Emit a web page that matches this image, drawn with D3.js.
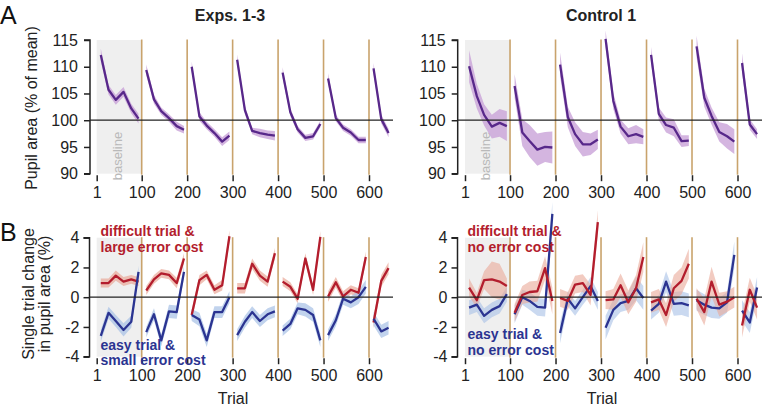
<!DOCTYPE html>
<html>
<head>
<meta charset="utf-8">
<script src="https://cdn.jsdelivr.net/npm/d3@7"></script>
<style>
  html, body { margin: 0; padding: 0; background: #fff; }
  svg { display: block; font-family: "Liberation Sans", Arial, Helvetica, sans-serif; }
</style>
</head>
<body>
<svg id="chart" width="762" height="409"></svg>
<script>
// ---------------- DATA ----------------
const blockStarts = [0, 100, 200, 300, 400, 500, 600];
const binOffsets = [10, 27, 43, 60, 77, 93];
const xTickLabels = [1, 100, 200, 300, 400, 500, 600];
const pupilTicks = [90, 95, 100, 105, 110, 115];
const changeTicks = [-4, -2, 0, 2, 4];
const panelTitles = ["Exps. 1-3", "Control 1"];

// Panel A, Exps. 1-3 : pupil area (% of mean)
const pupilExp = [
  [112.2, 105.7, 103.8, 105.3, 102.2, 100.3],
  [109.4, 103.9, 101.7, 100.4, 98.9, 98.2],
  [110.0, 100.7, 99.0, 97.6, 96.0, 97.1],
  [111.3, 101.9, 98.0, 97.6, 97.3, 97.1],
  [108.9, 101.5, 98.3, 96.7, 97.0, 99.3],
  [107.8, 100.4, 98.6, 97.7, 96.3, 96.3],
  [109.7, 100.2, 97.6]
];
const pupilExpSE = [
  [1.2, 0.9, 0.9, 0.9, 0.9, 0.9],
  [1.0, 0.8, 0.7, 0.7, 0.8, 0.7],
  [1.0, 0.8, 0.7, 0.7, 0.8, 0.8],
  [1.0, 0.8, 0.6, 0.8, 0.8, 0.9],
  [1.0, 0.7, 0.6, 0.6, 0.6, 0.6],
  [1.0, 0.6, 0.6, 0.6, 0.6, 0.6],
  [1.0, 0.8, 0.8]
];
// Panel A, Control 1
const pupilCtrl = [
  [110.1, 104.5, 101.0, 98.8, 99.5, 98.9],
  [106.4, 97.7, 96.1, 94.5, 95.0, 94.9],
  [110.4, 100.6, 97.4, 95.5, 95.5, 96.4],
  [115.2, 103.6, 98.8, 97.0, 97.4, 96.9],
  [112.2, 101.2, 99.1, 98.6, 96.1, 96.2],
  [113.8, 104.2, 100.8, 97.8, 97.0, 96.0],
  [110.7, 99.2, 97.4]
];
const pupilCtrlSE = [
  [3.0, 2.3, 2.0, 2.2, 2.6, 2.8],
  [2.2, 2.5, 3.0, 3.0, 2.8, 3.0],
  [2.2, 1.9, 2.2, 2.3, 2.0, 1.8],
  [1.6, 1.5, 1.3, 1.5, 1.7, 1.4],
  [1.5, 1.2, 1.4, 1.6, 1.1, 1.0],
  [2.0, 1.7, 1.6, 1.8, 2.3, 2.3],
  [1.8, 1.0, 0.9]
];
// Panel B, Exps. 1-3 : single trial change (%)
const difficultLarge = [
  [0.95, 0.95, 1.45, 1.05, 1.2, 1.05],
  [0.45, 1.2, 1.6, 1.5, 0.95, 2.6],
  [-1.2, 1.15, 1.5, 0.5, 0.8, 4.1],
  [0.6, 0.6, 2.25, 1.45, 1.05, 2.95],
  [1.05, 0.7, -0.1, 2.6, 0.5, 4.05],
  [0.05, 1.0, 0.05, 0.5, 0.3, 2.7],
  [-1.7, 1.1, 1.95]
];
const difficultLargeSE = [
  [0.3, 0.3, 0.35, 0.3, 0.3, 0.3],
  [0.3, 0.3, 0.3, 0.3, 0.35, 0.35],
  [0.35, 0.35, 0.3, 0.3, 0.35, 0.4],
  [0.35, 0.35, 0.35, 0.35, 0.35, 0.35],
  [0.3, 0.3, 0.3, 0.35, 0.35, 0.4],
  [0.35, 0.35, 0.35, 0.3, 0.3, 0.35],
  [0.4, 0.4, 0.4]
];
const easySmall = [
  [-2.6, -1.05, -1.6, -2.2, -1.65, 1.7],
  [-2.35, -1.15, -2.9, -0.95, -1.0, 1.7],
  [-1.2, -1.5, -2.9, -1.0, -1.0, 0.0],
  [-2.55, -1.65, -1.0, -1.6, -1.15, -0.95],
  [-2.25, -1.8, -0.75, -0.85, -1.2, -2.9],
  [-2.55, -1.55, -0.1, -0.35, 0.0, 0.7],
  [-1.45, -2.3, -2.05]
];
const easySmallSE = [
  [0.4, 0.4, 0.4, 0.45, 0.4, 0.4],
  [0.35, 0.4, 0.4, 0.45, 0.45, 0.4],
  [0.4, 0.45, 0.45, 0.4, 0.4, 0.4],
  [0.4, 0.4, 0.4, 0.4, 0.4, 0.4],
  [0.35, 0.35, 0.4, 0.45, 0.45, 0.45],
  [0.4, 0.4, 0.4, 0.4, 0.45, 0.45],
  [0.45, 0.45, 0.45]
];
// Panel B, Control 1
const difficultNone = [
  [0.65, -0.2, 1.15, 1.2, 1.05, 0.75],
  [-1.05, 0.15, 0.35, 0.4, 1.95, -0.25],
  [-0.05, -0.25, 0.85, 0.95, 0.15, 5.05],
  [-0.2, -0.15, 0.8, -0.35, 0.6, 2.7],
  [-0.35, -0.15, -1.2, 0.6, 1.1, 2.25],
  [-0.1, -1.0, 1.05, -0.5, -0.3, 0.0],
  [-1.9, 0.5, -0.7]
];
const difficultNoneSE = [
  [0.6, 0.5, 0.6, 1.2, 1.2, 0.5],
  [0.6, 0.6, 0.7, 0.7, 0.8, 0.9],
  [0.6, 0.6, 0.6, 0.6, 0.7, 0.8],
  [0.6, 0.7, 0.8, 0.8, 0.9, 1.0],
  [0.7, 0.7, 0.8, 0.9, 0.9, 1.0],
  [0.7, 0.9, 1.0, 0.8, 0.7, 0.7],
  [0.8, 0.8, 0.8]
];
const easyNone = [
  [-0.7, -0.5, -1.25, -0.85, -0.6, 0.2],
  [-1.15, 0.0, -0.25, -0.65, -0.7, 5.6],
  [-2.4, -0.1, -0.75, 0.0, 0.75, -0.25],
  [-2.05, -0.85, -0.4, -0.25, 0.6, -0.05],
  [-0.9, -0.45, 1.05, -0.45, -0.4, -0.55],
  [-0.2, -0.5, -0.7, -0.75, -0.35, 2.85],
  [-0.9, -1.7, 0.65]
];
const easyNoneSE = [
  [0.5, 0.5, 0.5, 0.5, 0.5, 0.5],
  [0.6, 0.5, 0.6, 0.6, 0.6, 0.8],
  [0.7, 0.5, 0.5, 0.5, 0.6, 0.6],
  [0.8, 0.7, 0.6, 0.6, 0.8, 0.8],
  [0.6, 0.6, 0.7, 0.8, 0.8, 0.8],
  [0.7, 0.7, 0.7, 0.7, 0.7, 0.9],
  [0.7, 0.7, 0.7]
];

// ---------------- STYLE ----------------
const C = {
  purple: "#58288a", purpleBand: "#c9a2d8",
  red: "#b31d2d", redBand: "#e9a898",
  blue: "#2b3491", blueBand: "#a7c0e6",
  gold: "#c9a36c", grey: "#efefef", baseText: "#b9b9b9"
};

const svg = d3.select("#chart");

function toPoints(values, se) {
  const pts = [];
  values.forEach((blk, b) => blk.forEach((v, i) => {
    pts.push({ block: b, t: blockStarts[b] + binOffsets[i], v: v, se: se[b][i] });
  }));
  return pts;
}

function drawPanel(cfg) {
  const x = d3.scaleLinear().domain([1, 600]).range(cfg.xr);
  const y = d3.scaleLinear().domain(cfg.yd).range(cfg.yr);
  const g = svg.append("g");
  const top = cfg.yr[1], bot = cfg.yr[0];

  // baseline shading
  g.append("rect").attr("x", x(1)).attr("y", top)
    .attr("width", x(100) - x(1)).attr("height", bot - top)
    .attr("fill", C.grey);
  if (cfg.baselineText) {
    g.append("text").attr("transform", `translate(${(x(1) + x(100)) / 2 - 2},${cfg.baseTextY}) rotate(-90)`)
      .attr("text-anchor", "middle").attr("dy", "0.35em")
      .attr("font-size", 13).attr("fill", C.baseText).text("baseline");
  }

  // series
  cfg.series.forEach(s => {
    const pts = toPoints(s.values, s.se);
    const blocks = d3.groups(pts, d => d.block).map(d => d[1]);
    const area = d3.area().x(d => x(d.t)).y0(d => y(d.v - d.se)).y1(d => y(d.v + d.se));
    g.append("g").selectAll("path").data(blocks).join("path")
      .attr("d", area).attr("fill", s.band).attr("fill-opacity", s.bandOpacity);
  });
  cfg.series.forEach(s => {
    const pts = toPoints(s.values, s.se);
    const blocks = d3.groups(pts, d => d.block).map(d => d[1]);
    const line = d3.line().x(d => x(d.t)).y(d => y(d.v));
    g.append("g").selectAll("path").data(blocks).join("path")
      .attr("d", line).attr("fill", "none").attr("stroke", s.color)
      .attr("stroke-width", 2.3).attr("stroke-linejoin", "round");
  });

  // block boundary lines
  g.append("g").selectAll("line").data(blockStarts.slice(1)).join("line")
    .attr("x1", d => x(d)).attr("x2", d => x(d))
    .attr("y1", top - 0.5).attr("y2", bot + 1)
    .attr("stroke", C.gold).attr("stroke-width", 1.6);

  // reference line
  g.append("line").attr("x1", cfg.axisX).attr("x2", cfg.xEnd)
    .attr("y1", y(cfg.ref)).attr("y2", y(cfg.ref))
    .attr("stroke", "#222").attr("stroke-width", 1.3);

  // y axis
  const yAxis = d3.axisLeft(y).tickValues(cfg.yTicks).tickSize(6).tickPadding(cfg.tickPad)
    .tickFormat(d => d < 0 ? "-" + Math.abs(d) : d);
  const ya = g.append("g").attr("transform", `translate(${cfg.axisX},0)`).call(yAxis);
  ya.select(".domain").attr("d", `M-6,${bot}H0V${top}H-6`).attr("stroke", "#222").attr("stroke-width", 1.5);
  ya.selectAll(".tick line").attr("stroke", "#222").attr("stroke-width", 1.5);
  ya.selectAll(".tick text").attr("font-size", 16).attr("fill", "#222")
    .attr("font-family", "Liberation Sans, Arial, sans-serif");

  // x axis (ticks only)
  const xAxis = d3.axisBottom(x).tickValues(xTickLabels).tickSize(6).tickPadding(5);
  const xa = g.append("g").attr("transform", `translate(0,${bot + 1.5})`).call(xAxis);
  xa.select(".domain").remove();
  xa.selectAll(".tick line").attr("stroke", "#222").attr("stroke-width", 1.5);
  xa.selectAll(".tick text").attr("font-size", 16).attr("fill", "#222")
    .attr("font-family", "Liberation Sans, Arial, sans-serif");

  return { x, y };
}

const leftX = [96.7, 369], rightX = [465, 737.5];
const yA = [173.7, 40], yB = [356.7, 237.7];

drawPanel({ xr: leftX, yd: [90, 115], yr: yA, axisX: 90, xEnd: 393, ref: 100, yTicks: pupilTicks, tickPad: 6,
  baselineText: true, baseTextY: 156,
  series: [{ values: pupilExp, se: pupilExpSE, color: C.purple, band: C.purpleBand, bandOpacity: 0.8 }] });
drawPanel({ xr: rightX, yd: [90, 115], yr: yA, axisX: 457.7, xEnd: 762, ref: 100, yTicks: pupilTicks, tickPad: 6,
  baselineText: true, baseTextY: 156,
  series: [{ values: pupilCtrl, se: pupilCtrlSE, color: C.purple, band: C.purpleBand, bandOpacity: 0.8 }] });
drawPanel({ xr: leftX, yd: [-4, 4], yr: yB, axisX: 89.5, xEnd: 393, ref: 0, yTicks: changeTicks, tickPad: 4,
  series: [
    { values: difficultLarge, se: difficultLargeSE, color: C.red, band: C.redBand, bandOpacity: 0.7 },
    { values: easySmall, se: easySmallSE, color: C.blue, band: C.blueBand, bandOpacity: 0.7 }
  ] });
drawPanel({ xr: rightX, yd: [-4, 4], yr: yB, axisX: 457.5, xEnd: 762, ref: 0, yTicks: changeTicks, tickPad: 4,
  series: [
    { values: easyNone, se: easyNoneSE, color: C.blue, band: C.blueBand, bandOpacity: 0.6 },
    { values: difficultNone, se: difficultNoneSE, color: C.red, band: C.redBand, bandOpacity: 0.6 }
  ] });

// ---------------- TEXT ----------------
svg.append("text").attr("x", 230).attr("y", 20.5).attr("text-anchor", "middle")
  .attr("font-size", 16).attr("font-weight", "bold").attr("fill", "#222").text(panelTitles[0]);
svg.append("text").attr("x", 601).attr("y", 20.5).attr("text-anchor", "middle")
  .attr("font-size", 16).attr("font-weight", "bold").attr("fill", "#222").text(panelTitles[1]);

svg.append("text").attr("x", 0).attr("y", 23.5).attr("font-size", 25).attr("fill", "#111").text("A");
svg.append("text").attr("x", 0).attr("y", 240.5).attr("font-size", 25).attr("fill", "#111").text("B");

svg.append("text").attr("transform", "translate(37,108) rotate(-90)").attr("text-anchor", "middle")
  .attr("font-size", 16).attr("fill", "#222").text("Pupil area (% of mean)");
svg.append("text").attr("transform", "translate(33.5,294) rotate(-90)").attr("text-anchor", "middle")
  .attr("font-size", 16).attr("fill", "#222").text("Single trial change");
svg.append("text").attr("transform", "translate(50,294) rotate(-90)").attr("text-anchor", "middle")
  .attr("font-size", 16).attr("fill", "#222").text("in pupil area (%)");

svg.append("text").attr("x", 233).attr("y", 404).attr("text-anchor", "middle")
  .attr("font-size", 16).attr("fill", "#222").text("Trial");
svg.append("text").attr("x", 602).attr("y", 404).attr("text-anchor", "middle")
  .attr("font-size", 16).attr("fill", "#222").text("Trial");

const legend = [
  { x: 100.5, y: 236, t: "difficult trial &", c: C.red },
  { x: 100.5, y: 252, t: "large error cost", c: C.red },
  { x: 100.5, y: 349.5, t: "easy trial &", c: C.blue },
  { x: 100.5, y: 365, t: "small error cost", c: C.blue },
  { x: 467.5, y: 235.5, t: "difficult trial &", c: C.red },
  { x: 467.5, y: 252, t: "no error cost", c: C.red },
  { x: 467.5, y: 338.5, t: "easy trial &", c: C.blue },
  { x: 467.5, y: 354.5, t: "no error cost", c: C.blue }
];
svg.append("g").selectAll("text").data(legend).join("text")
  .attr("x", d => d.x).attr("y", d => d.y).attr("font-size", 14).attr("font-weight", "bold")
  .attr("fill", d => d.c).text(d => d.t);
</script>
</body>
</html>
